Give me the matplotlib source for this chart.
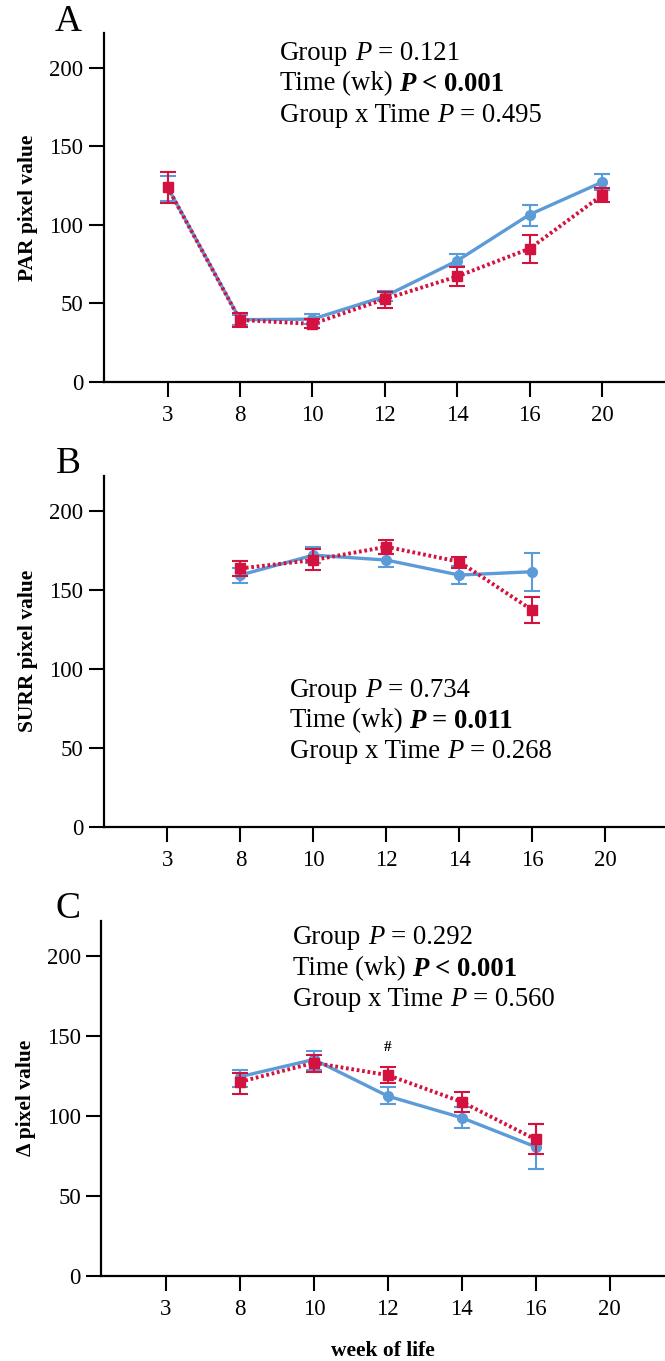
import numpy as np
import matplotlib.pyplot as plt

plt.rcParams['font.family'] = ['Liberation Serif', 'DejaVu Serif']

nan = np.nan
weeks = ['3', '8', '10', '12', '14', '16', '20']

# A: PAR pixel value
par_blue = [124, 39.5, 39.8, 54.3, 77, 106.4, 127]
par_blue_lo = [115, 36, 37, 51.5, 73.4, 99.4, 121.9]
par_blue_hi = [131, 42.5, 43, 57.9, 81.5, 112.3, 132.3]
par_red = [123.8, 39.3, 36.8, 52.6, 67, 84.7, 118.7]
par_red_lo = [113.8, 35.1, 34, 46.8, 61, 75.5, 114.2]
par_red_hi = [133.6, 43.6, 40, 57.4, 72.8, 93.6, 123.4]

# B: SURR pixel value
surr_blue = [nan, 159.3, 171.9, 168.8, 159.3, 161.4, nan]
surr_blue_lo = [nan, 154.4, 166.7, 164.6, 153.6, 149.4, nan]
surr_blue_hi = [nan, 163.5, 177.2, 172.4, 165, 173.4, nan]
surr_red = [nan, 163.5, 168.8, 177.2, 167.7, 137.1, nan]
surr_red_lo = [nan, 158.6, 162.4, 172.6, 163.5, 129.1, nan]
surr_red_hi = [nan, 168.1, 175.5, 181.4, 170.5, 145.6, nan]

# C: delta pixel value
delta_blue = [nan, 124.5, 135.3, 112.4, 98.9, 80.7, nan]
delta_blue_lo = [nan, 118.2, 128.6, 107.4, 92.2, 66.6, nan]
delta_blue_hi = [nan, 129, 140.7, 117.8, 105.7, 94.9, nan]
delta_red = [nan, 121.3, 133.2, 125.5, 108.8, 85.3, nan]
delta_red_lo = [nan, 113.6, 127.6, 120.9, 102.6, 76.2, nan]
delta_red_hi = [nan, 127, 138, 130.3, 115.1, 94.7, nan]

stats_a = [[('Group', 'normal', 'normal'), ('P', 'italic', 'normal'), ('= 0.121', 'normal', 'normal')],
           [('Time (wk)', 'normal', 'normal'), ('P', 'italic', 'bold'), ('< 0.001', 'normal', 'bold')],
           [('Group x Time', 'normal', 'normal'), ('P', 'italic', 'normal'), ('= 0.495', 'normal', 'normal')]]
stats_b = [[('Group', 'normal', 'normal'), ('P', 'italic', 'normal'), ('= 0.734', 'normal', 'normal')],
           [('Time (wk)', 'normal', 'normal'), ('P', 'italic', 'bold'), ('= 0.011', 'normal', 'bold')],
           [('Group x Time', 'normal', 'normal'), ('P', 'italic', 'normal'), ('= 0.268', 'normal', 'normal')]]
stats_c = [[('Group', 'normal', 'normal'), ('P', 'italic', 'normal'), ('= 0.292', 'normal', 'normal')],
           [('Time (wk)', 'normal', 'normal'), ('P', 'italic', 'bold'), ('< 0.001', 'normal', 'bold')],
           [('Group x Time', 'normal', 'normal'), ('P', 'italic', 'normal'), ('= 0.560', 'normal', 'normal')]]

BLUE = '#5b9bd8'
RED = '#d3123f'
W, H = 665, 1361

fig = plt.figure(figsize=(W / 100, H / 100), dpi=100)


def px_axes(left, top, bottom):
    return fig.add_axes([left / W, 1 - bottom / H, 1 - left / W, (bottom - top) / H])


def rich_line(ax, x, y, parts, size=19.3):
    # x, y in figure pixels from top-left; y is line centre
    prev = ax.annotate(parts[0][0], xy=(x / W, 1 - y / H), xycoords='figure fraction',
                       fontsize=size, style=parts[0][1], weight=parts[0][2],
                       ha='left', va='center', annotation_clip=False)
    for txt, st, wt in parts[1:]:
        prev = ax.annotate(txt, xy=(1, 0), xycoords=prev, xytext=(size * 0.25, 0),
                           textcoords='offset points', fontsize=size, style=st, weight=wt,
                           ha='left', va='bottom', annotation_clip=False)


def draw_panel(ax, blue, blo, bhi, red, rlo, rhi, ylabel, xlim):
    x = np.arange(len(weeks))
    blue = np.array(blue); red = np.array(red)
    berr = [blue - np.array(blo), np.array(bhi) - blue]
    rerr = [red - np.array(rlo), np.array(rhi) - red]
    ax.errorbar(x, blue, yerr=berr, color=BLUE, lw=2.4, marker='o', ms=7,
                elinewidth=1.5, capsize=6, capthick=1.5, zorder=3)
    ax.errorbar(x, red, yerr=rerr, color=RED, lw=2.8, ls=(0, (0.7, 0.7)), marker='s', ms=7,
                elinewidth=1.5, capsize=6, capthick=1.5, zorder=4)
    ax.set_xlim(*xlim)
    ax.set_ylim(0, 222)
    ax.set_xticks(x)
    ax.set_xticklabels(weeks)
    ax.set_yticks([0, 50, 100, 150, 200])
    for s in ['top', 'right']:
        ax.spines[s].set_visible(False)
    for s in ['left', 'bottom']:
        ax.spines[s].set_linewidth(1.6)
    ax.tick_params(axis='both', direction='out', length=10.5, width=1.5, labelsize=16.5, pad=4)
    ax.tick_params(axis='x', pad=6)
    ax.set_ylabel(ylabel, fontsize=15.5, fontweight='bold', labelpad=8)


ax_a = px_axes(103.5, 33, 381.7)
draw_panel(ax_a, par_blue, par_blue_lo, par_blue_hi, par_red, par_red_lo, par_red_hi,
           'PAR pixel value', (-0.884, 6.87))
ax_b = px_axes(103.5, 476, 826.7)
draw_panel(ax_b, surr_blue, surr_blue_lo, surr_blue_hi, surr_red, surr_red_lo, surr_red_hi,
           'SURR pixel value', (-0.877, 6.82))
ax_c = px_axes(101, 920.7, 1276)
draw_panel(ax_c, delta_blue, delta_blue_lo, delta_blue_hi, delta_red, delta_red_lo, delta_red_hi,
           'Δ pixel value', (-0.88, 6.75))
ax_c.set_xlabel('week of life', fontsize=15.5, fontweight='bold', labelpad=15)
ax_c.text(3, 143, '#', ha='center', va='center', fontsize=11, fontweight='bold')

for lab, yy in [('A', 22), ('B', 464), ('C', 909)]:
    fig.text(68 / W, 1 - yy / H, lab, fontsize=27, ha='center', va='center')

for i, parts in enumerate(stats_a):
    rich_line(ax_a, 280, 53 + i * 31, parts)
for i, parts in enumerate(stats_b):
    rich_line(ax_b, 290, 690 + i * 31, parts)
for i, parts in enumerate(stats_c):
    rich_line(ax_c, 293, 938 + i * 31, parts)

fig.savefig('out.png', dpi=100)
